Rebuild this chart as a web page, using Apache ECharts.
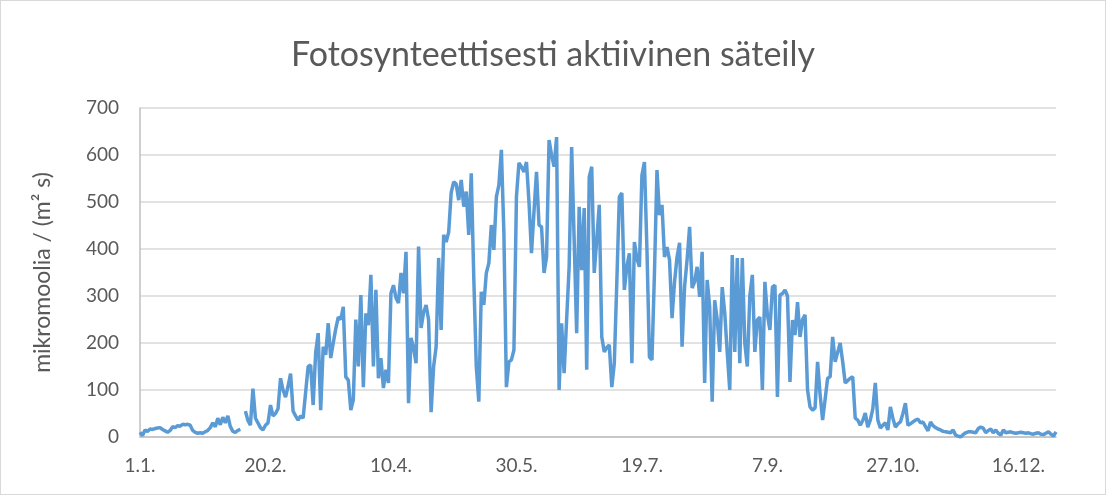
<!DOCTYPE html>
<html>
<head>
<meta charset="utf-8">
<script src="https://cdn.jsdelivr.net/npm/echarts@6/dist/echarts.min.js"></script>
<style>
  html, body { margin: 0; padding: 0; background: #fff; }
  #chart { width: 1104px; height: 493px; border: 1px solid #d9d9d9; }
</style>
</head>
<body>
<div id="chart"></div>
<script>
// one value per day, leap year (1.1. .. 31.12.), null = missing day
var parValues = [
  10, 3, 15, 12, 17, 16, 18, 19, 20, 16,
  13, 10, 14, 22, 20, 24, 23, 27, 26, 27,
  25, 14, 10, 8, 9, 8, 11, 14, 20, 30,
  22, 40, 26, 42, 30, 45, 22, 12, 10, 14,
  16, null, 55, 35, 25, 103, 40, 30, 20, 15,
  25, 30, 68, 45, 50, 60, 125, 100, 85, 108,
  135, 55, 45, 36, 45, 40, 95, 150, 153, 68,
  180, 221, 57, 192, 175, 242, 168, 200, 230, 255,
  250, 277, 128, 121, 57, 79, 250, 150, 302, 106,
  263, 238, 345, 150, 313, 125, 168, 104, 143, 115,
  306, 323, 296, 285, 349, 306, 394, 72, 211, 190,
  157, 405, 232, 265, 281, 249, 53, 150, 192, 381,
  228, 430, 415, 436, 520, 543, 538, 504, 547, 490,
  522, 430, 561, 340, 150, 75, 309, 281, 349, 370,
  451, 398, 511, 536, 611, 434, 106, 160, 164, 185,
  511, 583, 575, 564, 585, 500, 391, 480, 564, 451,
  447, 349, 383, 632, 600, 575, 638, 100, 242, 136,
  250, 362, 617, 420, 221, 490, 355, 487, 143, 553,
  575, 349, 420, 494, 213, 181, 190, 196, 106, 157,
  330, 511, 519, 313, 362, 391, 157, 415, 380, 362,
  557, 585, 400, 170, 164, 350, 568, 472, 494, 383,
  404, 377, 253, 330, 383, 413, 192, 320, 377, 447,
  317, 330, 362, 298, 394, 115, 334, 277, 75, 291,
  250, 181, 319, 264, 180, 100, 387, 181, 381, 157,
  381, 200, 150, 300, 345, 181, 249, 255, 100, 330,
  260, 228, 319, 323, 85, 302, 305, 313, 300, 117,
  249, 217, 287, 213, 250, 260, 100, 64, 57, 62,
  160, 90, 36, 80, 125, 128, 213, 160, 180, 200,
  160, 115, 120, 125, 128, 40, 36, 25, 35, 51,
  21, 36, 60, 115, 36, 19, 25, 30, 15, 64,
  40, 21, 28, 32, 50, 72, 25, 28, 32, 36,
  38, 30, 32, 22, 13, 32, 24, 20, 17, 15,
  12, 11, 10, 9, 15, 4, 2, 0, 5, 9,
  11, 11, 10, 9, 18, 21, 19, 9, 14, 17,
  9, 15, 8, 4, 15, 9, 10, 11, 9, 8,
  9, 10, 9, 8, 9, 7, 6, 8, 9, 6,
  5, 8, 11, 6, 2, 11
];

var dayLabels = [];
var d = new Date(2016, 0, 1);
for (var i = 0; i < parValues.length; i++) {
  dayLabels.push(d.getDate() + '.' + (d.getMonth() + 1) + '.');
  d.setDate(d.getDate() + 1);
}

var chart = echarts.init(document.getElementById('chart'));
var textColor = '#595959';
var fontName = 'Lato';

var option = {
  animation: false,
  title: {
    text: 'Fotosynteettisesti aktiivinen säteily',
    left: 'center',
    top: 32,
    textStyle: { fontFamily: fontName, fontSize: 34, fontWeight: 'normal', color: textColor }
  },
  grid: { left: 139, right: 49, top: 107, bottom: 57 },
  xAxis: {
    type: 'category',
    data: dayLabels,
    boundaryGap: false,
    axisLine: { lineStyle: { color: '#bfbfbf', width: 1.5 } },
    axisTick: { show: false },
    axisLabel: {
      interval: 49,
      color: textColor,
      fontFamily: fontName,
      fontSize: 19,
      margin: 19
    }
  },
  yAxis: {
    type: 'value',
    min: 0,
    max: 700,
    interval: 100,
    name: 'mikromoolia / (m² s)',
    nameLocation: 'middle',
    nameGap: 86,
    nameTextStyle: { color: textColor, fontFamily: fontName, fontSize: 23 },
    axisLine: { show: true, lineStyle: { color: '#bfbfbf', width: 1.5 } },
    axisTick: { show: false },
    splitLine: { lineStyle: { color: '#d9d9d9', width: 1.5 } },
    axisLabel: { color: textColor, fontFamily: fontName, fontSize: 19, margin: 21 }
  },
  series: [{
    type: 'line',
    data: parValues,
    showSymbol: false,
    connectNulls: false,
    lineStyle: { color: '#5b9bd5', width: 3.5 },
    itemStyle: { color: '#5b9bd5' }
  }]
};

chart.setOption(option);
</script>
</body>
</html>
